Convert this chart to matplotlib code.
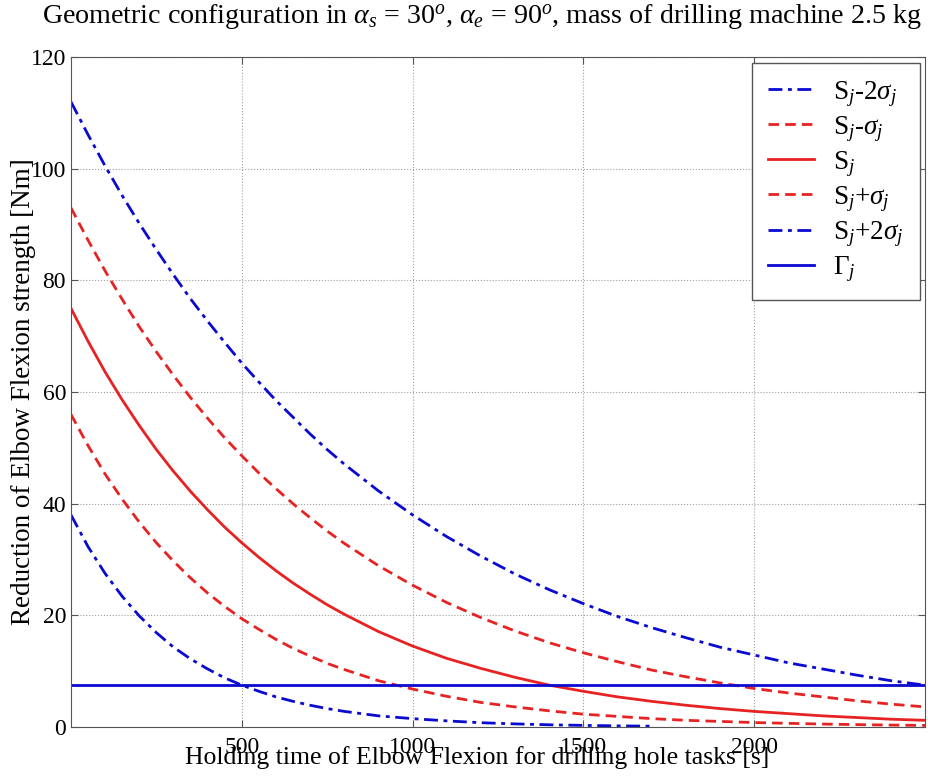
import numpy as np
import matplotlib
matplotlib.use('Agg')
import matplotlib.pyplot as plt

plt.rcParams['font.family'] = 'Liberation Serif'
plt.rcParams['mathtext.fontset'] = 'custom'
plt.rcParams['mathtext.rm'] = 'Liberation Serif'
plt.rcParams['mathtext.it'] = 'Liberation Serif:italic'

# tiempo de sujecion (s)
t = [0, 50, 100, 150, 200, 250, 300, 350, 400, 450, 500, 550, 600, 650, 700, 750, 800,
     900, 1000, 1100, 1200, 1300, 1400, 1500, 1600, 1700, 1800, 1900, 2000, 2100, 2200,
     2300, 2400, 2500]

# curvas (Nm)
s_m2 = [112, 106.1, 100.5, 95.2, 90.2, 85.5, 81.0, 76.7, 72.7, 68.9, 65.2, 61.8, 58.5, 55.5,
        52.5, 49.7, 47.1, 42.3, 38.0, 34.1, 30.6, 27.4, 24.6, 22.1, 19.8, 17.8, 16.0, 14.3,
        12.9, 11.5, 10.4, 9.3, 8.3, 7.5]
s_m1 = [93, 87.2, 81.7, 76.6, 71.7, 67.2, 63.0, 59.0, 55.3, 51.8, 48.6, 45.5, 42.7, 40.0,
        37.5, 35.1, 32.9, 28.9, 25.4, 22.3, 19.6, 17.2, 15.1, 13.3, 11.7, 10.2, 9.0, 7.9,
        6.9, 6.1, 5.4, 4.7, 4.1, 3.6]
s_0 = [75, 69.1, 63.6, 58.6, 54.0, 49.7, 45.8, 42.2, 38.9, 35.8, 33.0, 30.4, 28.0, 25.8,
       23.8, 21.9, 20.2, 17.1, 14.5, 12.3, 10.5, 8.9, 7.5, 6.4, 5.4, 4.6, 3.9, 3.3,
       2.8, 2.4, 2.0, 1.7, 1.4, 1.2]
s_p1 = [56, 50.4, 45.3, 40.8, 36.7, 33.0, 29.7, 26.7, 24.0, 21.6, 19.4, 17.5, 15.7, 14.1,
        12.7, 11.4, 10.3, 8.3, 6.8, 5.5, 4.4, 3.6, 2.9, 2.3, 1.9, 1.5, 1.2, 1.0,
        0.8, 0.66, 0.53, 0.43, 0.35, 0.28]
t_p2 = t[:26]
s_p2 = [38, 32.3, 27.5, 23.4, 19.9, 16.9, 14.3, 12.2, 10.4, 8.8, 7.5, 6.4, 5.4, 4.6,
        3.9, 3.3, 2.8, 2.0, 1.5, 1.1, 0.77, 0.56, 0.40, 0.29, 0.21, 0.15]
gamma = 7.5

labels = [r'S$_j$-2$\sigma_j$', r'S$_j$-$\sigma_j$', r'S$_j$', r'S$_j$+$\sigma_j$',
          r'S$_j$+2$\sigma_j$', r'$\Gamma_j$']

azul = '#0a0ad0'
rojo = '#e62222'
dd = (5, 2.0, 1.4, 2.0)
dsh = (3.8, 2.2)

fig = plt.figure(figsize=(9.29, 7.83), dpi=100)
ax = fig.add_axes([0.0764, 0.0715, 0.9193, 0.8555])

ax.plot(t, s_m2, color=azul, lw=2.0, dashes=dd, label=labels[0])
ax.plot(t, s_m1, color=rojo, lw=2.0, dashes=dsh, label=labels[1])
ax.plot(t, s_0, color=rojo, lw=2.0, label=labels[2])
ax.plot(t, s_p1, color=rojo, lw=2.0, dashes=dsh, label=labels[3])
ax.plot(t_p2, s_p2, color=azul, lw=2.0, dashes=dd, label=labels[4])
ax.axhline(gamma, color=azul, lw=2.0, label=labels[5])

ax.set_xlim(0, 2500)
ax.set_ylim(0, 120)
ax.set_xticks([500, 1000, 1500, 2000])
ax.set_yticks([0, 20, 40, 60, 80, 100, 120])
ax.grid(True, color='#a0a0a0', ls=':', lw=0.8)
ax.tick_params(direction='in', labelsize=17, length=5, top=True, right=True, color='#555555')
ax.tick_params(axis='x', pad=7)
for sp in ax.spines.values():
    sp.set_color('#555555')

ax.set_xlabel('Holding time of Elbow Flexion for drilling hole tasks [s]', fontsize=18.5)
ax.xaxis.set_label_coords(0.475, -0.028)
ax.set_ylabel('Reduction of Elbow Flexion strength [Nm]', fontsize=19.5, labelpad=-4)
ax.set_title(r'Geometric configuration in $\alpha_s$ = 30$^o$, $\alpha_e$ = 90$^o$, mass of drilling machine 2.5 kg',
             fontsize=20.2, pad=24, x=0.481)

leg = ax.legend(loc='upper right', fontsize=19.5, fancybox=False, framealpha=1,
                edgecolor='#555555', handlelength=1.7, labelspacing=0.2,
                borderaxespad=0.2, handletextpad=0.7, borderpad=0.6)
leg.get_frame().set_linewidth(1.0)

plt.savefig('out.png', dpi=100)
